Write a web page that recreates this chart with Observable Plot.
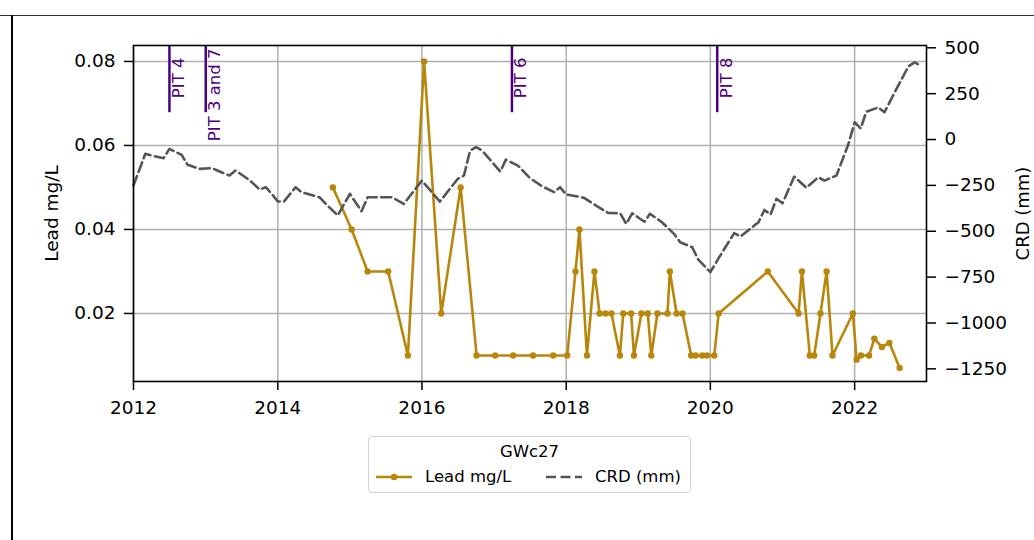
<!DOCTYPE html>
<html>
<head>
<meta charset="utf-8">
<script src="https://cdn.jsdelivr.net/npm/d3@7"></script>
<script src="https://cdn.jsdelivr.net/npm/@observablehq/plot@0.6"></script>
<style>
html, body { margin: 0; padding: 0; width: 1034px; height: 540px; overflow: hidden; background: #fff; font-family: "DejaVu Sans", sans-serif; }
#chart { position: absolute; left: 0; top: 0; }
.hline { position: absolute; left: 0; top: 15px; width: 1034px; height: 1px; background: #333; }
.vline { position: absolute; left: 11px; top: 15px; width: 2px; height: 525px; background: #000; }
#legend { position: absolute; left: 368px; top: 436px; width: 323px; height: 57px; border: 1.5px solid #d3d3d3; border-radius: 4px; background: rgba(255,255,255,0.8); box-sizing: border-box; font-size: 16.5px; color: #000; }
#legend .t { position: absolute; left: 0; width: 100%; top: 5px; text-align: center; line-height: 20px; }
#legend .lab { position: absolute; top: 30px; line-height: 20px; white-space: nowrap; }
#legend svg { position: absolute; top: 30px; }
</style>
</head>
<body>
<div class="hline"></div>
<div class="vline"></div>
<div id="chart"></div>
<div id="legend"></div>
<script>
// ---- Data ----
const leadDates = ["2014-10-07","2015-01-10","2015-04-01","2015-07-14","2015-10-22","2016-01-12","2016-04-08","2016-07-15","2016-10-04","2017-01-06","2017-04-07","2017-07-17","2017-10-27","2018-01-06","2018-02-17","2018-03-09","2018-04-16","2018-05-24","2018-06-19","2018-07-19","2018-08-18","2018-09-30","2018-10-17","2018-11-26","2018-12-10","2019-01-17","2019-02-18","2019-03-08","2019-04-08","2019-05-29","2019-06-10","2019-07-14","2019-08-13","2019-09-26","2019-10-18","2019-11-21","2019-12-15","2020-01-21","2020-02-12","2020-10-18","2021-03-23","2021-04-09","2021-05-19","2021-06-10","2021-07-12","2021-08-12","2021-09-11","2021-12-23","2022-01-11","2022-02-02","2022-03-15","2022-04-11","2022-05-19","2022-06-26","2022-08-17"];
const leadValues = [0.05,0.04,0.03,0.03,0.01,0.08,0.02,0.05,0.01,0.01,0.01,0.01,0.01,0.01,0.03,0.04,0.01,0.03,0.02,0.02,0.02,0.01,0.02,0.02,0.01,0.02,0.02,0.01,0.02,0.02,0.03,0.02,0.02,0.01,0.01,0.01,0.01,0.01,0.02,0.03,0.02,0.03,0.01,0.01,0.02,0.03,0.01,0.02,0.009,0.01,0.01,0.014,0.012,0.013,0.007];

const crdDates = ["2012-01-01","2012-03-01","2012-04-01","2012-06-01","2012-07-01","2012-09-01","2012-10-01","2012-12-01","2013-02-01","2013-03-01","2013-05-01","2013-06-01","2013-08-01","2013-09-01","2013-10-01","2013-11-01","2013-12-01","2014-01-01","2014-02-01","2014-04-01","2014-05-01","2014-08-01","2014-09-01","2014-11-01","2015-01-01","2015-03-01","2015-04-01","2015-08-01","2015-10-01","2016-01-01","2016-04-01","2016-07-01","2016-08-01","2016-09-01","2016-10-01","2016-11-01","2017-02-01","2017-03-01","2017-05-01","2017-07-01","2017-09-01","2017-11-01","2017-12-01","2018-01-01","2018-03-01","2018-04-01","2018-06-01","2018-08-01","2018-10-01","2018-11-01","2018-12-01","2019-02-01","2019-03-01","2019-05-01","2019-07-01","2019-08-01","2019-10-01","2019-11-01","2020-01-01","2020-03-01","2020-05-01","2020-06-01","2020-08-01","2020-09-01","2020-10-01","2020-11-01","2020-12-01","2021-01-01","2021-03-01","2021-05-01","2021-07-01","2021-08-01","2021-10-01","2021-12-01","2022-01-01","2022-02-01","2022-03-01","2022-05-01","2022-06-01","2022-08-01","2022-10-01","2022-11-01","2022-12-01"];
const crdValues = [-250,-78,-87,-102,-51,-84,-138,-160,-156,-169,-196,-169,-214,-242,-273,-260,-296,-338,-338,-260,-287,-315,-351,-414,-296,-391,-315,-315,-351,-224,-338,-214,-196,-60,-42,-60,-175,-110,-142,-210,-255,-287,-260,-300,-311,-318,-360,-400,-402,-460,-402,-448,-405,-451,-514,-560,-587,-655,-723,-615,-510,-529,-478,-451,-384,-409,-323,-347,-202,-263,-206,-224,-196,-23,94,60,152,175,149,276,400,420,403];

const pitDates = ["2012-07-01","2013-01-01","2017-04-01","2020-02-05"];
const pitLabels = ["PIT 4","PIT 3 and 7","PIT 6","PIT 8"];

const xTickYears = ["2012","2014","2016","2018","2020","2022"];
const leadTicks = [0.02, 0.04, 0.06, 0.08];
const crdTicks = [500, 250, 0, -250, -500, -750, -1000, -1250];

const legendTitle = "GWc27";
const leadName = "Lead mg/L";
const crdName = "CRD (mm)";

// ---- Build ----
const parse = s => new Date(s + (s.length === 4 ? "-01-01" : ""));
const lead = leadDates.map((d, i) => ({date: parse(d), value: leadValues[i]}));
const crd = crdDates.map((d, i) => ({date: parse(d), value: crdValues[i]}));
const pits = pitDates.map((d, i) => ({date: parse(d), label: pitLabels[i]}));
const xTicks = xTickYears.map(parse);

const leadDomain = [0.0038, 0.0838];
const crdDomain = [-1319, 512.5];
const crdToLead = d3.scaleLinear().domain(crdDomain).range(leadDomain);

const LEAD = "#B8860B", CRD = "#555555", PIT = "#4B0082", GRID = "#b0b0b0";
const FS = 18.5;
const pitTop = leadDomain[1];
const pitBottom = leadDomain[1] - 0.2 * (leadDomain[1] - leadDomain[0]);

const chart = Plot.plot({
  width: 1034,
  height: 420,
  marginLeft: 133,
  marginRight: 108,
  marginTop: 45,
  marginBottom: 39,
  style: {fontFamily: "DejaVu Sans", fontSize: FS + "px", color: "#000", background: "transparent", overflow: "visible"},
  x: {type: "utc", domain: [parse("2012-01-01"), parse("2022-12-31")]},
  y: {domain: leadDomain},
  marks: [
    Plot.gridX(xTicks, {stroke: GRID, strokeOpacity: 1, strokeWidth: 1.5}),
    Plot.gridY(leadTicks, {stroke: GRID, strokeOpacity: 1, strokeWidth: 1.5}),
    Plot.axisX(xTicks, {tickFormat: d3.utcFormat("%Y"), tickSize: 9, tickPadding: 10, strokeWidth: 1.5, fontSize: FS, label: null}),
    Plot.axisY(leadTicks, {anchor: "left", tickFormat: d3.format(".2f"), tickSize: 9, tickPadding: 9, strokeWidth: 1.5, fontSize: FS, label: null}),
    Plot.axisY(crdTicks.map(crdToLead), {anchor: "right", tickFormat: d => d3.format("d")(Math.round(crdToLead.invert(d))), tickSize: 9, tickPadding: 9, strokeWidth: 1.5, fontSize: FS, label: null}),
    Plot.line(lead, {x: "date", y: "value", stroke: LEAD, strokeWidth: 2.6}),
    Plot.dot(lead, {x: "date", y: "value", fill: LEAD, r: 3.2}),
    Plot.line(crd, {x: "date", y: d => crdToLead(d.value), stroke: CRD, strokeWidth: 2.6, strokeDasharray: "10,4.5"}),
    Plot.ruleX(pits, {x: "date", y1: pitBottom, y2: pitTop, stroke: PIT, strokeWidth: 2.5}),
    Plot.text(pits.filter(d => d.label.length <= 6), {x: "date", frameAnchor: "top", text: "label", rotate: -90, textAnchor: "end", lineAnchor: "middle", dx: 9, dy: 12, fill: PIT, fontSize: 16.5}),
    Plot.text(pits.filter(d => d.label.length > 6), {x: "date", frameAnchor: "top", text: "label", rotate: -90, textAnchor: "end", lineAnchor: "middle", dx: 9, dy: 3, fill: PIT, fontSize: 16.5}),
    Plot.text([leadName], {text: d => d, frameAnchor: "left", rotate: -90, textAnchor: "middle", lineAnchor: "middle", dx: -81, fontSize: FS}),
    Plot.text([crdName], {text: d => d, frameAnchor: "right", rotate: -90, textAnchor: "middle", lineAnchor: "middle", dx: 97, fontSize: 18}),
    Plot.frame({stroke: "#000", strokeWidth: 1.6})
  ]
});
document.getElementById("chart").appendChild(chart);

// ---- Legend ----
const lg = document.getElementById("legend");
lg.innerHTML = `
  <div class="t">${legendTitle}</div>
  <svg style="left:7px" width="37" height="20"><line x1="0" y1="10" x2="36" y2="10" stroke="${LEAD}" stroke-width="2.6"/><circle cx="18" cy="10" r="3.2" fill="${LEAD}"/></svg>
  <div class="lab" style="left:56px">${leadName}</div>
  <svg style="left:177px" width="37" height="20"><line x1="0" y1="10" x2="36" y2="10" stroke="${CRD}" stroke-width="2.6" stroke-dasharray="10,4.5"/></svg>
  <div class="lab" style="left:226px">${crdName}</div>`;
</script>
</body>
</html>
